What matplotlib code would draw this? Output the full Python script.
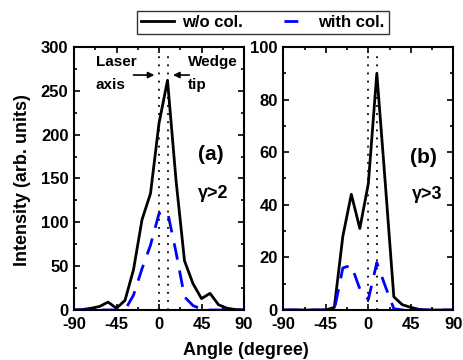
import matplotlib
matplotlib.use('Agg')
import matplotlib.pyplot as plt
from matplotlib.lines import Line2D

# angle grid (degree), 9 degree steps
angles = [-90, -81, -72, -63, -54, -45, -36, -27, -18, -9, 0,
          9, 18, 27, 36, 45, 54, 63, 72, 81, 90]

# (a) gamma > 2
a_without = [0, 0.5, 2, 4, 9, 2, 11, 46, 103, 133, 213,
             262, 148, 56, 30, 13, 19, 6, 2, 0.5, 0]
a_with = [0, 0, 0, 0, 0, 0, 0, 17, 47, 74, 110,
          112, 66, 15, 5, 1, 0, 0, 0, 0, 0]

# (b) gamma > 3
b_without = [0, 0, 0, 0, 0, 0, 1, 28, 44, 31, 48,
             90, 48, 5, 2, 1, 0.2, 0, 0, 0, 0]
b_with = [0, 0, 0, 0, 0, 0, 0, 16, 17, 8, 4,
          18, 9, 0.5, 0, 0, 0, 0, 0, 0, 0]

laser_axis = 0
wedge_tip = 9

plt.rcParams['font.family'] = ['Liberation Sans', 'DejaVu Sans']
plt.rcParams['font.weight'] = 'bold'
plt.rcParams['axes.unicode_minus'] = False

fig = plt.figure(figsize=(4.64, 3.6), dpi=100)
ax1 = fig.add_axes([0.1595, 0.1389, 0.3664, 0.7306])
ax2 = fig.add_axes([0.6106, 0.1389, 0.3664, 0.7306])


def style(ax, ymax, ymajor):
    ax.set_xlim(-90, 90)
    ax.set_ylim(0, ymax)
    ax.set_xticks([-90, -45, 0, 45, 90])
    ax.set_xticks([-67.5, -22.5, 22.5, 67.5], minor=True)
    ax.set_yticks(range(0, ymax + 1, ymajor))
    ax.set_yticks(range(ymajor // 2, ymax, ymajor), minor=True)
    ax.tick_params(which='both', direction='in', top=True, right=True,
                   width=1.2, labelsize=12)
    ax.tick_params(which='major', length=4)
    ax.tick_params(which='minor', length=2.5)
    ax.tick_params(axis='x', pad=5)
    ax.tick_params(axis='y', pad=4)
    for s in ax.spines.values():
        s.set_linewidth(1.5)
    for lab in ax.get_xticklabels() + ax.get_yticklabels():
        lab.set_fontweight('bold')


for ax, yw, yc, ymax, ymajor in [(ax1, a_without, a_with, 300, 50),
                                  (ax2, b_without, b_with, 100, 20)]:
    ax.plot(angles, yw, color='black', lw=2)
    ax.plot(angles, yc, color='#0000FF', lw=2, dashes=(6, 4))
    for xv in (laser_axis, wedge_tip):
        ax.axvline(xv, ymin=0, ymax=0.97, color='black', lw=1.3, ls=(0, (1, 3.5)))
    style(ax, ymax, ymajor)

# annotations panel (a)
ax1.annotate('', xy=(-2, 268), xytext=(-30, 268),
             arrowprops=dict(arrowstyle='-|>', color='black', lw=1.2, mutation_scale=9))
ax1.annotate('', xy=(12, 268), xytext=(35, 268),
             arrowprops=dict(arrowstyle='-|>', color='black', lw=1.2, mutation_scale=9))
ax1.text(-67, 283, 'Laser', fontsize=11, fontweight='bold', va='center')
ax1.text(-67, 257, 'axis', fontsize=11, fontweight='bold', va='center')
ax1.text(31, 283, 'Wedge', fontsize=11, fontweight='bold', va='center')
ax1.text(31, 257, 'tip', fontsize=11, fontweight='bold', va='center')
ax1.text(55, 177, '(a)', fontsize=15, fontweight='bold', ha='center', va='center')
ax1.text(57, 133, 'γ>2', fontsize=13, fontweight='bold', ha='center', va='center')

ax2.text(58, 58, '(b)', fontsize=15, fontweight='bold', ha='center', va='center')
ax2.text(62, 44, 'γ>3', fontsize=13, fontweight='bold', ha='center', va='center')

fig.text(0.048, 0.5, 'Intensity (arb. units)', rotation=90, fontsize=13,
         fontweight='bold', ha='center', va='center')
fig.text(0.53, 0.026, 'Angle (degree)', fontsize=13, fontweight='bold',
         ha='center', va='center')

h_black = Line2D([], [], color='black', lw=2)
h_blue = Line2D([], [], color='#0000FF', lw=2, ls=(7.5, (5, 5)))
leg = fig.legend([h_black, h_blue], ['w/o col.', 'with col.'], ncol=2,
                 loc='center', bbox_to_anchor=(0.566, 0.9375),
                 frameon=True, fancybox=False, edgecolor='black', fontsize=12,
                 handlelength=2.0, handletextpad=0.5, columnspacing=2.0,
                 borderpad=0.25)
leg.get_frame().set_linewidth(1.0)

fig.savefig('out.png', dpi=100)
